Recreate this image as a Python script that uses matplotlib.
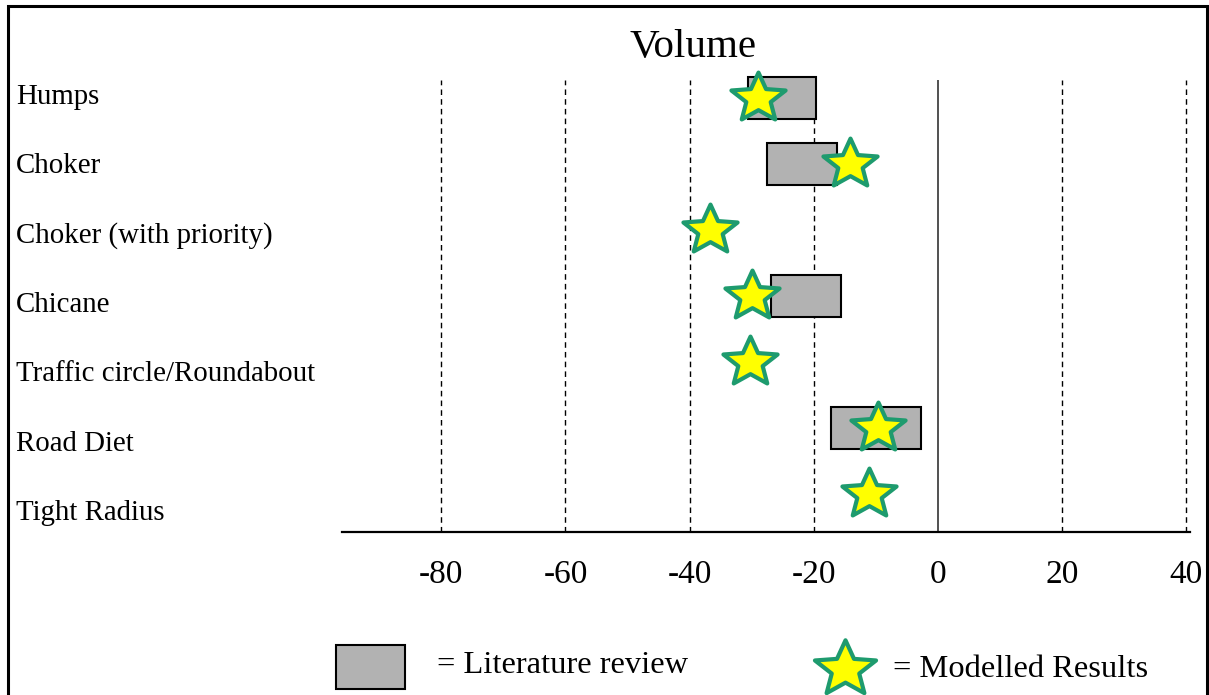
import numpy as np
import matplotlib
matplotlib.use('Agg')
import matplotlib.pyplot as plt
from matplotlib.path import Path
from matplotlib.markers import MarkerStyle
from matplotlib.patches import Rectangle

# ---- data ----
categories = ['Humps', 'Choker', 'Choker (with priority)', 'Chicane',
              'Traffic circle/Roundabout', 'Road Diet', 'Tight Radius']
# literature review range per measure (nan = no box)
lit_low = np.array([-30.6, -27.5, np.nan, -26.9, np.nan, -17.2, np.nan])
lit_high = np.array([-19.6, -16.3, np.nan, -15.6, np.nan, -2.7, np.nan])
# modelled change in volume (%)
modelled = np.array([-29.0, -14.2, -36.7, -30.0, -30.3, -9.7, -11.1])
tick_vals = [-80, -60, -40, -20, 0, 20, 40]
tick_labels = ['-80', '-60', '-40', '-20', '0', '20', '40']

GREY = '#b2b2b2'
STAR_FACE = '#ffff00'
STAR_EDGE = '#1e9b6e'
SERIF = ['Liberation Serif', 'DejaVu Serif']

plt.rcParams['font.family'] = SERIF


def star_marker(stretch=1.1, inner=0.45):
    """Five point star, slightly wider than tall like the original."""
    ang = np.pi / 2 + np.arange(10) * np.pi / 5
    r = np.where(np.arange(10) % 2 == 0, 1.0, inner)
    verts = np.column_stack([r * np.cos(ang) * stretch, r * np.sin(ang)])
    verts = np.vstack([verts, verts[0]])
    codes = [Path.MOVETO] + [Path.LINETO] * 9 + [Path.CLOSEPOLY]
    return MarkerStyle(Path(verts, codes), joinstyle='miter')


STAR = star_marker()

W, H = 1209, 695
fig = plt.figure(figsize=(W / 100, H / 100), dpi=100)
ax = fig.add_axes([342 / W, (H - 532) / H, 848 / W, 452 / H])

rows = np.arange(len(categories))
ax.set_xlim(-96, 40.6)
ax.set_ylim(6.576, -0.273)

# vertical reference lines
for v in tick_vals:
    if v == 0:
        ax.axvline(v, color='#222222', lw=1.1, zorder=1)
    else:
        ax.axvline(v, color='black', lw=1.0, ls=(0, (4, 3)), zorder=1)

# literature review boxes
has_box = ~np.isnan(lit_low)
bars = ax.barh(rows[has_box], lit_high[has_box] - lit_low[has_box],
               left=lit_low[has_box], height=0.65, color=GREY,
               edgecolor='black', linewidth=1.5, zorder=2)
for b in bars:
    b.set_clip_on(False)

# modelled results
ax.plot(modelled, rows, ls='none', marker=STAR, ms=39,
        mfc=STAR_FACE, mec=STAR_EDGE, mew=3.0, zorder=4, clip_on=False)

for s in ['top', 'left', 'right']:
    ax.spines[s].set_visible(False)
ax.spines['bottom'].set_linewidth(1.6)
ax.set_yticks([])
ax.set_xticks(tick_vals)
ax.set_xticklabels(tick_labels, fontsize=24)
ax.tick_params(axis='x', length=0, pad=20)

# ---- overlay in pixel coordinates: title, row labels, legend, frame ----
lay = fig.add_axes([0, 0, 1, 1], zorder=-1)
lay.set_xlim(0, W)
lay.set_ylim(H, 0)
lay.axis('off')

lay.text(693, 47, 'Volume', fontsize=29.5, ha='center', va='center')

for i, name in enumerate(categories):
    lay.text(16, 104 + 69.33 * i, name, fontsize=20.8, va='baseline')

lay.add_patch(Rectangle((336, 645), 69, 44, facecolor=GREY,
                        edgecolor='black', linewidth=1.5))
lay.text(437, 673, '= Literature review', fontsize=23.4, va='baseline')
lay.plot([845], [669], ls='none', marker=STAR, ms=44,
         mfc=STAR_FACE, mec=STAR_EDGE, mew=3.0)
lay.text(893, 677, '= Modelled Results', fontsize=23.4, va='baseline')

# frame around the figure (bottom edge is cut off in the original)
lay.plot([8, 8, 1207, 1207], [H + 5, 6, 6, H + 5], color='black',
         lw=2.2, solid_joinstyle='miter', clip_on=False)

fig.savefig('out.png', dpi=100)
